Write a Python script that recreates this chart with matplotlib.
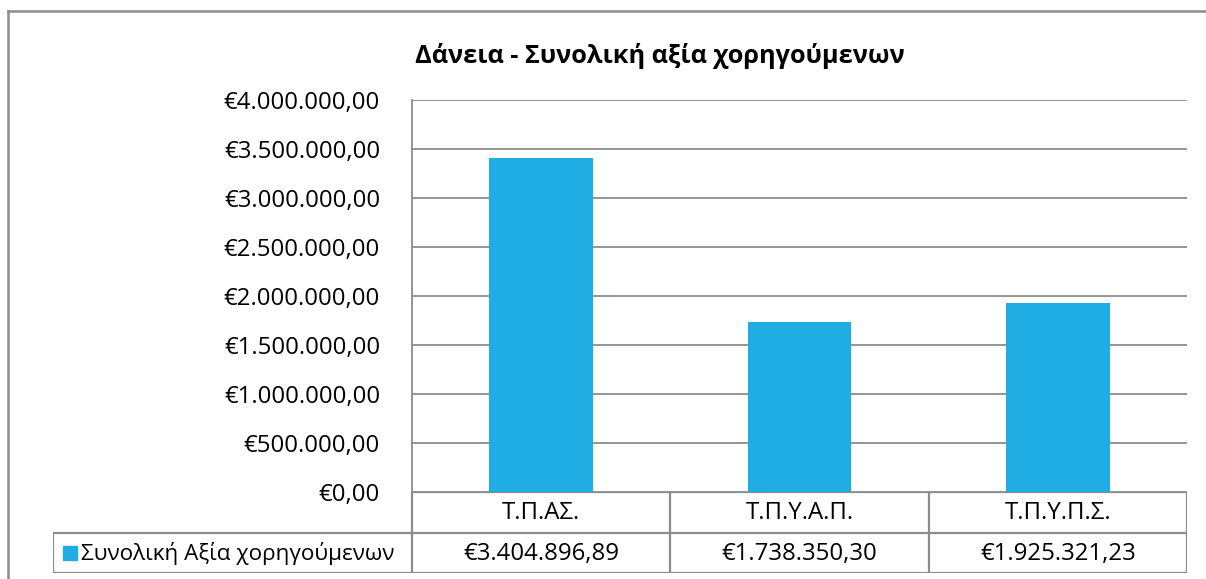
import matplotlib
matplotlib.use("Agg")
import matplotlib.pyplot as plt
from matplotlib.lines import Line2D
from matplotlib.patches import Rectangle
import numpy as np

plt.rcParams['font.family'] = ['Open Sans', 'DejaVu Sans']

title = "Δάνεια - Συνολική αξία χορηγούμενων"
series_name = "Συνολική Αξία χορηγούμενων"
categories = ["Τ.Π.ΑΣ.", "Τ.Π.Υ.Α.Π.", "Τ.Π.Υ.Π.Σ."]
values = [3404896.89, 1738350.30, 1925321.23]
yticks = np.arange(0, 4000001, 500000)

BAR = "#1FADE4"
LINE = "#8C8C8C"
W, H = 1206, 579
FS = 17.3


def euro(v):
    s = f"{v:,.2f}".replace(",", "X").replace(".", ",").replace("X", ".")
    return "€" + s


def box(x0, y0, x1, y1):
    # pixel box -> figure fraction rect
    return [x0 / W, 1 - y1 / H, (x1 - x0) / W, (y1 - y0) / H]


fig = plt.figure(figsize=(W / 100, H / 100), dpi=100)

# outer chart frame (cut by the image edges)
fig.add_artist(Line2D([8 / W, 8 / W], [-0.01, 1 - 11 / H], color=LINE, lw=1.8))
fig.add_artist(Line2D([8 / W, 1.01], [1 - 11 / H, 1 - 11 / H], color=LINE, lw=1.8))

ax = fig.add_axes(box(412, 100, 1187, 492))
x = np.arange(len(categories))
ax.bar(x, values, width=0.4, color=BAR, zorder=3)
ax.set_xlim(-0.5, len(categories) - 0.5)
ax.set_ylim(0, 4000000)
ax.set_yticks(yticks)
ax.set_yticklabels([euro(v) for v in yticks], fontsize=FS)
ax.tick_params(axis='y', length=0, pad=23)
ax.set_xticks([])
ax.grid(axis='y', color=LINE, lw=1.3, zorder=0)
for s in ["top", "right", "bottom"]:
    ax.spines[s].set_visible(False)
ax.spines["left"].set_color(LINE)
ax.spines["left"].set_linewidth(1.3)

fig.text(660 / W, 1 - 56 / H, title, ha="center", va="center",
         fontsize=18.2, fontweight="bold")

# data table below the plot, sharing the category scale
cw = 775 / len(categories)
left = -0.5 - (412 - 53) / cw
n = len(categories)
tab = fig.add_axes(box(53, 492, 1187, 573))
tab.set_xlim(left, n - 0.5)
tab.set_ylim(2, 0)
tab.axis("off")
kw = dict(color=LINE, lw=1.6, solid_capstyle="projecting")
tab.plot([-0.5, n - 0.5], [0, 0], **kw)
tab.plot([left, n - 0.5], [1, 1], **kw)
tab.plot([left, n - 0.5], [2, 2], **kw)
for xb in np.arange(-0.5, n, 1.0):
    tab.plot([xb, xb], [0, 2], **kw)
tab.plot([left, left], [1, 2], **kw)
for i, (c, v) in enumerate(zip(categories, values)):
    tab.text(i, 0.52, c, ha="center", va="center", fontsize=FS)
    tab.text(i, 1.52, euro(v), ha="center", va="center", fontsize=FS)
kx = left + 10 / cw
tab.add_patch(Rectangle((kx, 1.33), 14 / cw, 0.35, color=BAR))
tab.text(kx + 18 / cw, 1.52, series_name, ha="left", va="center", fontsize=16.2)

fig.savefig("out.png", dpi=100)
